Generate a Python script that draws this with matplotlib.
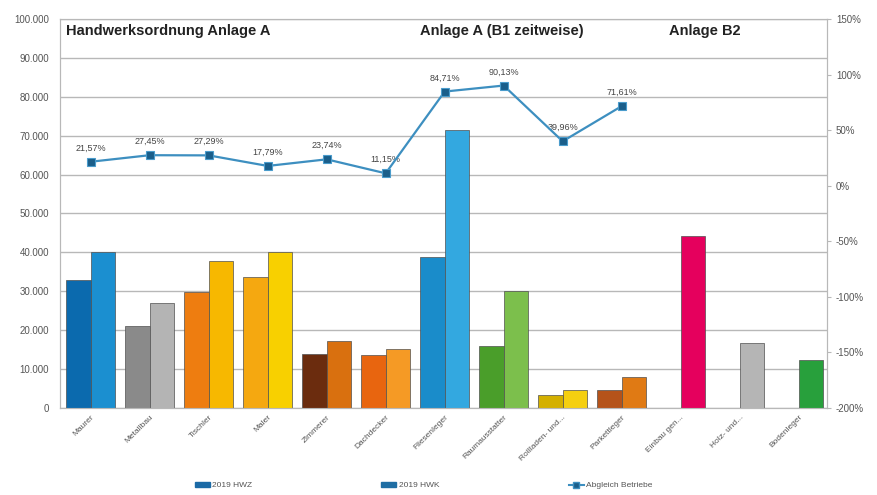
import numpy as np
import matplotlib.pyplot as plt
from matplotlib.patches import Patch
from matplotlib.lines import Line2D
from matplotlib.ticker import FuncFormatter

plt.rcParams['font.family'] = ['Liberation Sans', 'DejaVu Sans']

# --- Daten ---
gewerke = ["Maurer", "Metallbau", "Tischler", "Maler", "Zimmerer", "Dachdecker",
           "Fliesenleger", "Raumausstatter", "Rollladen- und...", "Parkettleger",
           "Einbau gen...", "Holz- und...", "Bodenleger"]
hwz_2019 = [32800, 21000, 29700, 33800, 13800, 13600, 38700, 15900, 3300, 4600,
            None, None, None]
hwk_2019 = [40000, 27000, 37700, 40200, 17200, 15100, 71500, 30200, 4600, 7900,
            44300, 16700, 12300]
abgleich = [21.57, 27.45, 27.29, 17.79, 23.74, 11.15, 84.71, 90.13, 39.96, 71.61]

farben_hwz = ["#0b6aae", "#8a8a8a", "#ee7d10", "#f5a810", "#6b2c0e", "#e8650f",
              "#1a8cca", "#4a9e2a", "#d4b000", "#b5531a", None, None, None]
farben_hwk = ["#1b8fd0", "#b4b4b4", "#f7b800", "#f8d000", "#d9700f", "#f59a25",
              "#33a8e0", "#7cbf4c", "#f5cf10", "#e07a14", "#e5005d", "#b5b5b5", "#28a03c"]

gruppen = [("Handwerksordnung Anlage A", -0.42), ("Anlage A (B1 zeitweise)", 5.58),
           ("Anlage B2", 9.8)]

grau = "#555555"
x = np.arange(len(gewerke))
w = 0.42

fig = plt.figure(figsize=(8.77, 4.95), dpi=100)
ax = fig.add_axes([0.0684, 0.1758, 0.8746, 0.7858])

for i in range(len(gewerke)):
    if hwz_2019[i] is not None:
        ax.bar(x[i] - w / 2, hwz_2019[i], w, color=farben_hwz[i],
               edgecolor="#505050", linewidth=0.5, zorder=3)
    ax.bar(x[i] + w / 2, hwk_2019[i], w, color=farben_hwk[i],
           edgecolor="#505050", linewidth=0.5, zorder=3)

ax.set_xlim(-0.52, 12.48)
ax.set_ylim(0, 100000)
ax.set_yticks(np.arange(0, 100001, 10000))
ax.yaxis.set_major_formatter(FuncFormatter(lambda v, p: f"{int(v):,}".replace(",", ".")))
ax.grid(axis="y", color="#b8b8b8", linewidth=1, zorder=0)
ax.set_xticks(x)
ax.set_xticklabels(gewerke, rotation=45, ha="right", rotation_mode="anchor",
                   fontsize=6, color=grau)
ax.tick_params(axis="y", labelsize=7, labelcolor=grau, length=0, pad=8)
ax.tick_params(axis="x", length=0, pad=4)
for s in ax.spines.values():
    s.set_color("#b8b8b8")

# --- Abgleich (rechte Achse) ---
ax2 = ax.twinx()
ax2.plot(x[:len(abgleich)], abgleich, color="#3d8fc0", linewidth=1.6,
         marker="s", markersize=6, markerfacecolor="#1a5e8a",
         markeredgecolor="#4a9ccc", markeredgewidth=0.8, zorder=5)
for xi, v in zip(x, abgleich):
    ax2.annotate(f"{v:.2f}%".replace(".", ","), (xi, v), xytext=(0, 8),
                 textcoords="offset points", ha="center", fontsize=6.5, color="#444444")
ax2.set_ylim(-200, 150)
ax2.set_yticks(np.arange(-200, 151, 50))
ax2.yaxis.set_major_formatter(FuncFormatter(lambda v, p: f"{int(v)}%"))
ax2.tick_params(axis="y", labelsize=7, labelcolor=grau, length=3, color="#b8b8b8")
for s in ax2.spines.values():
    s.set_color("#b8b8b8")

for txt, xpos in gruppen:
    ax.text(xpos, 98600, txt, fontsize=10.5, fontweight="bold", color="#222222",
            va="top", ha="left", zorder=6)

handles = [Patch(color="#1b6aa6", label="2019 HWZ"),
           Patch(color="#1f6ea4", label="2019 HWK"),
           Line2D([0], [0], color="#3d8fc0", marker="s", markersize=4,
                  markerfacecolor="#1a5e8a", label="Abgleich Betriebe")]
fig.legend(handles=handles, loc="lower center", ncol=3, bbox_to_anchor=(0.483, -0.004),
           frameon=False, fontsize=6, labelcolor=grau, columnspacing=15.5,
           handlelength=1.8, handleheight=0.5, handletextpad=0.3)

fig.savefig("out.png", dpi=100)
